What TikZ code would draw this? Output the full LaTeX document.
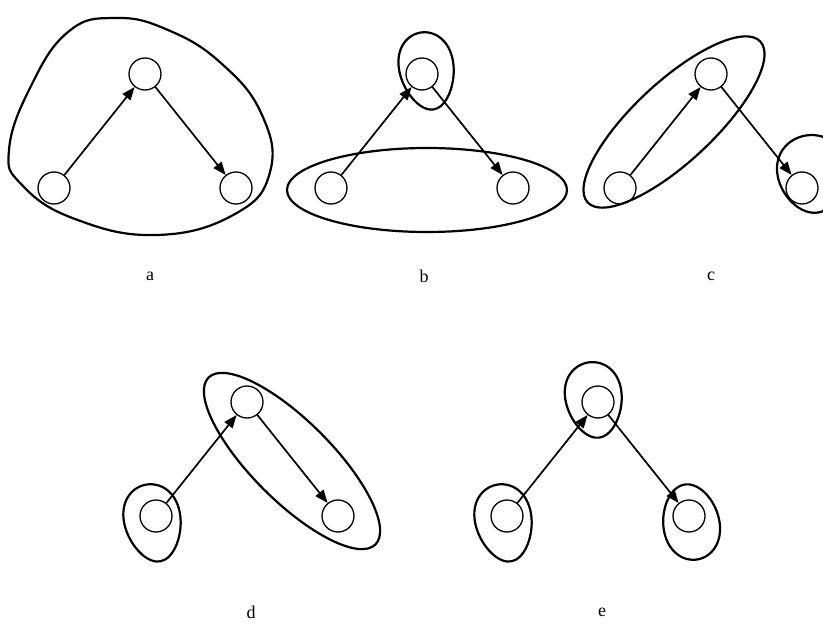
\documentclass[tikz,border=0pt]{standalone}
\usepackage{fontspec}
\setmainfont{Liberation Serif}
\usetikzlibrary{arrows.meta}

\tikzset{
  knoop/.style={circle,draw,line width=1.3pt,minimum size=32pt,inner sep=0pt},
  pijl/.style={line width=1.7pt,-{Triangle[length=13pt,width=10pt]}},
  groep/.style={line width=2.2pt},
  tekst/.style={font=\fontsize{18}{20}\selectfont,inner sep=0pt}
}

\begin{document}
\begin{tikzpicture}[x=1pt,y=-1pt]
  \useasboundingbox (0,0) rectangle (823,626);
  \clip (0,0) rectangle (823,626);

  % knopen en pijlen
  \foreach \p/\x/\y in {a/145/74,b/422/74,c/711/74,d/247/402,e/598/402} {
    \node[knoop] (\p2) at (\x,\y) {};
    \node[knoop] (\p1) at ([shift={(-91,114)}]\p2) {};
    \node[knoop] (\p3) at ([shift={(91,114)}]\p2) {};
    \draw[pijl] (\p1) -- (\p2);
    \draw[pijl] (\p2) -- (\p3);
  }

  % a: alles in een groep
  \draw[groep] plot[smooth cycle,tension=0.75] coordinates {
    (9,150) (30,88) (68,32) (115,18) (168,30) (222,64)
    (262,115) (270,172) (235,214) (157,235) (75,219) (22,185)
  };

  % b
  \draw[groep] (427,190) ellipse [x radius=140, y radius=42];
  \draw[groep,shift={(b2)},shift={(5,-3)},rotate=10]
    plot[smooth cycle,domain=0:350,samples=36]
    ({27*cos(\x)*(1-0.15*sin(\x))},{39*sin(\x)});

  % c
  \draw[groep,rotate around={43:(674,122)}] (674,122)
    ellipse [x radius=118, y radius=40];
  \draw[groep,shift={(c3)},shift={(10,-14)},rotate=9]
    plot[smooth cycle,domain=0:350,samples=36]
    ({34*cos(\x)*(1-0.12*sin(\x))},{39*sin(\x)});

  % d
  \draw[groep,rotate around={-45:(292,461)}] (292,461)
    ellipse [x radius=118, y radius=40];
  \draw[groep,shift={(d1)},shift={(-3,7)},rotate=11]
    plot[smooth cycle,domain=0:350,samples=36]
    ({28*cos(\x)*(1-0.15*sin(\x))},{39*sin(\x)});

  % e: elke knoop apart
  \draw[groep,shift={(e2)},shift={(-4,-2)},rotate=8]
    plot[smooth cycle,domain=0:350,samples=36]
    ({28*cos(\x)*(1-0.15*sin(\x))},{38*sin(\x)});
  \draw[groep,shift={(e1)},shift={(-3,7)},rotate=11]
    plot[smooth cycle,domain=0:350,samples=36]
    ({28*cos(\x)*(1-0.15*sin(\x))},{39*sin(\x)});
  \draw[groep,shift={(e3)},shift={(2,6)},rotate=10]
    plot[smooth cycle,domain=0:350,samples=36]
    ({28*cos(\x)*(1+0.1*sin(\x))},{38*sin(\x)});

  % labels
  \node[tekst] (la) at (150,276) {a};
  \node[tekst] (lb) at (424,276) {b};
  \node[tekst] (lc) at (711,276) {c};
  \node[tekst] (ld) at (251,612) {d};
  \node[tekst] (le) at (602,612) {e};

\end{tikzpicture}
\end{document}
